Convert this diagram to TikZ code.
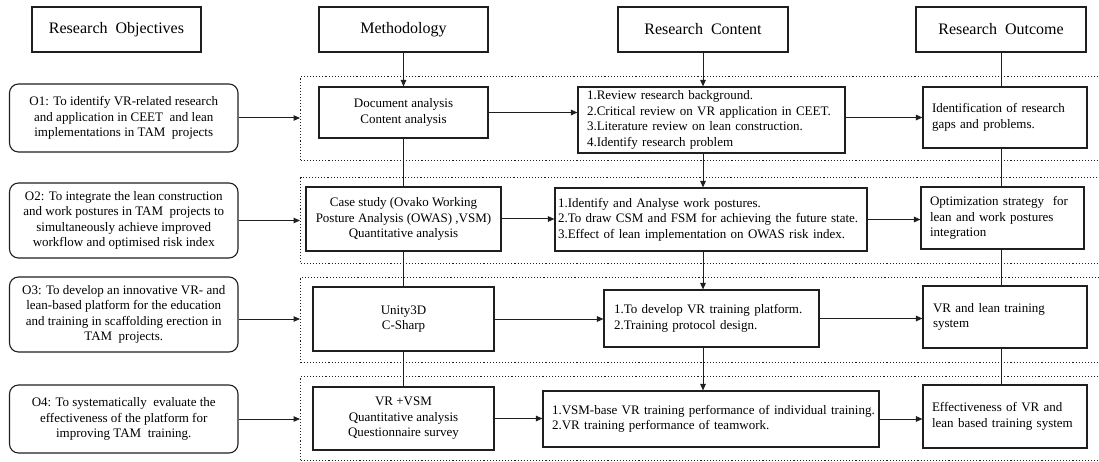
\documentclass[tikz,border=0pt]{standalone}
\usepackage{fontspec}
\setmainfont{Liberation Serif}
\usetikzlibrary{arrows.meta}
\definecolor{ink}{gray}{0.12}

\begin{document}
\begin{tikzpicture}[x=1pt,y=-1pt,
  every node/.style={font=\fontsize{13}{15.5}\selectfont, inner sep=0pt, text=black},
  boxline/.style={draw=ink, line width=1.1pt},
  headbox/.style={boxline, font=\fontsize{16}{19}\selectfont, minimum height=45pt, align=center},
  objbox/.style={boxline, rounded corners=9pt, align=center, minimum width=228.5pt},
  midbox/.style={boxline, align=center},
  listbox/.style={boxline, align=left},
  rowframe/.style={draw=ink, line width=1.1pt, dotted, anchor=north west, minimum width=808pt},
  conn/.style={draw=ink, line width=1pt},
  arr/.style={-{Triangle[length=6.5pt,width=5.5pt]}}
]
\useasboundingbox (0,0) rectangle (1099,462);

% dotted row frames (open to the right)
\node[rowframe, minimum height=84pt] (f1) at (300,76) {};
\node[rowframe, minimum height=86pt] (f2) at (300,177) {};
\node[rowframe, minimum height=85pt] (f3) at (300,277) {};
\node[rowframe, minimum height=84pt] (f4) at (300,376) {};

% column headers
\node[headbox, minimum width=169pt] (hObj)  at (116.5,29.5) {Research~ Objectives};
\node[headbox, minimum width=169pt] (hMeth) at (403.5,29.5) {Methodology};
\node[headbox, minimum width=170pt] (hCont) at (703,29.5) {Research~ Content};
\node[headbox, minimum width=170pt] (hOut)  at (1001,29.5) {Research~ Outcome};

% objectives
\node[objbox, minimum height=68pt] (o1) at (123.75,118)
  {O1: To identify VR-related research\\and application in CEET~ and lean\\implementations in TAM~ projects};
\node[objbox, minimum height=75pt] (o2) at (123.75,220.5)
  {O2: To integrate the lean construction\\and work postures in TAM~ projects to\\simultaneously achieve improved\\workflow and optimised risk index};
\node[objbox, minimum height=75pt] (o3) at (123.75,314.5)
  {O3: To develop an innovative VR- and\\lean-based platform for the education\\and training in scaffolding erection in\\TAM~ projects.};
\node[objbox, minimum height=68pt] (o4) at (123.75,419)
  {O4: To systematically~ evaluate the\\effectiveness of the platform for\\improving TAM~ training.};

% methodology
\node[midbox, minimum width=169pt, minimum height=51pt] (m1) at (403.5,112.5)
  {Document analysis\\Content analysis};
\node[midbox, minimum width=195pt, minimum height=64pt] (m2) at (403.5,219)
  {Case study (Ovako Working\\Posture Analysis (OWAS) ,VSM)\\Quantitative analysis};
\node[midbox, minimum width=181pt, minimum height=64pt] (m3) at (403.5,319)
  {Unity3D\\C-Sharp};
\node[midbox, minimum width=181pt, minimum height=63pt] (m4) at (403.5,418.5)
  {VR +VSM\\Quantitative analysis\\Questionnaire survey};

% research content
\node[listbox, inner xsep=9pt, text width=249pt, minimum height=66pt] (c1) at (711.5,120)
  {\mbox{1.Review research background.}\\\mbox{2.Critical review on VR application in CEET.}\\\mbox{3.Literature review on lean construction.}\\\mbox{4.Identify research problem}};
\node[listbox, inner xsep=3pt, text width=306pt, minimum height=63pt] (c2) at (711,219.5)
  {\mbox{1.Identify and Analyse work postures.}\\\mbox{2.To draw CSM and FSM for achieving the future state.}\\\mbox{3.Effect of lean implementation on OWAS risk index.}};
\node[listbox, inner xsep=10pt, text width=195pt, minimum height=57pt] (c3) at (711.5,318.5)
  {\mbox{1.To develop VR training platform.}\\\mbox{2.Training protocol design.}};
\node[listbox, inner xsep=9pt, text width=318pt, minimum height=56pt] (c4) at (711,419)
  {\mbox{1.VSM-base VR training performance of individual training.}\\\mbox{2.VR training performance of teamwork.}};

% research outcome
\node[listbox, inner xsep=9pt, text width=146pt, minimum height=61pt] (r1) at (1005,117.5)
  {Identification of research\\gaps and problems.};
\node[listbox, inner xsep=9pt, text width=145pt, minimum height=62pt] (r2) at (1002.5,218)
  {Optimization strategy~ for\\lean and work postures\\integration};
\node[listbox, inner xsep=10pt, text width=144pt, minimum height=62pt] (r3) at (1005,317)
  {VR and lean training\\system};
\node[listbox, inner xsep=9pt, text width=146pt, minimum height=63pt] (r4) at (1005,416.5)
  {Effectiveness of VR and\\lean based training system};

% objectives into the row frames
\draw[conn,arr] (o1.east) -- (o1.east -| f1.west);
\draw[conn,arr] (o2.east) -- (o2.east -| f2.west);
\draw[conn,arr] (o3.east |- m3.west) -- (f3.west |- m3.west);
\draw[conn,arr] (o4.east) -- (o4.east -| f4.west);

% methodology to content
\draw[conn,arr] (m1.east) -- (m1.east -| c1.west);
\draw[conn,arr] (m2.east) -- (m2.east -| c2.west);
\draw[conn,arr] (m3.east) -- (m3.east -| c3.west);
\draw[conn,arr] (m4.east) -- (m4.east -| c4.west);

% content to outcome
\draw[conn,arr] (r1.west -| c1.east) -- (r1.west);
\draw[conn,arr] (c2.east) -- (c2.east -| r2.west);
\draw[conn,arr] (c3.east) -- (c3.east -| r3.west);
\draw[conn,arr] (c4.east) -- (c4.east -| r4.west);

% methodology column
\draw[conn,arr] (hMeth.south) -- (m1.north);
\draw[conn] (m1.south) -- (m2.north);
\draw[conn] (m2.south) -- (m3.north);
\draw[conn] (m3.south) -- (m4.north);

% content column
\draw[conn,arr] (hCont.south) -- (hCont.south |- c1.north);
\draw[conn,arr] (c1.south -| hCont.south) -- (c2.north -| hCont.south);
\draw[conn,arr] (c2.south -| hCont.south) -- (c3.north -| hCont.south);
\draw[conn,arr] (c3.south -| hCont.south) -- (c4.north -| hCont.south);

% outcome column
\draw[conn] (hOut.south) -- (hOut.south |- r1.north);
\draw[conn] (r1.south -| hOut.south) -- (r2.north -| hOut.south);
\draw[conn] (r2.south -| hOut.south) -- (r3.north -| hOut.south);
\draw[conn] (r3.south -| hOut.south) -- (r4.north -| hOut.south);
\end{tikzpicture}
\end{document}
